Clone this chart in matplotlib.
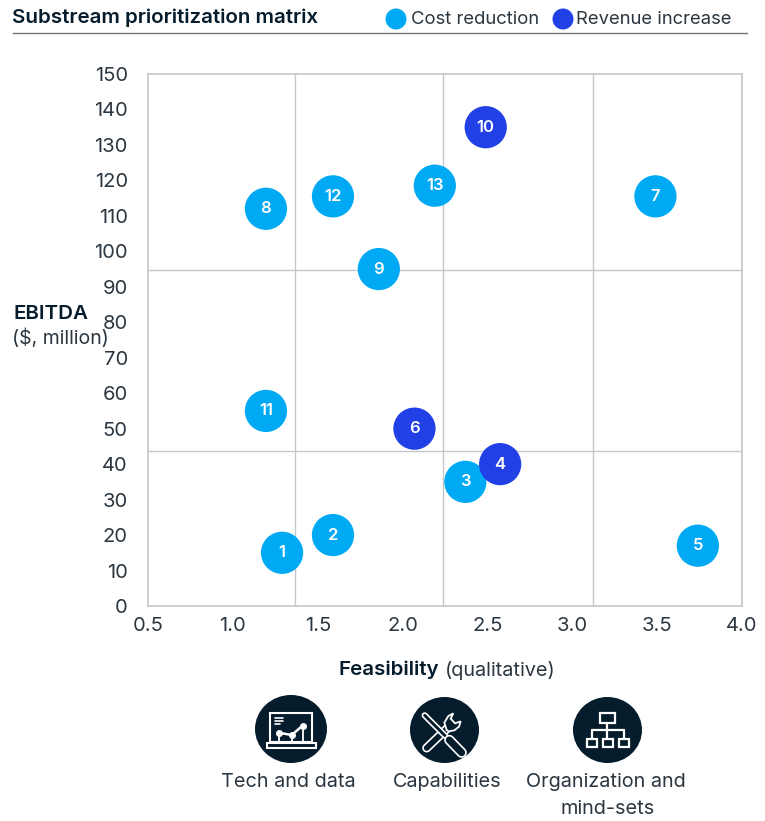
import matplotlib.pyplot as plt
from matplotlib.patches import Ellipse, Polygon, Rectangle

plt.rcParams['font.family'] = ['Inter', 'DejaVu Sans']

NAVY = '#051c2c'
TEXT = '#2b3640'
CYAN = '#00a9f4'
BLUE = '#2140e6'
GRID = '#c4c7ca'

point_labels = [1, 2, 3, 4, 5, 6, 7, 8, 9, 10, 11, 12, 13]
feasibility = [1.29, 1.59, 2.37, 2.575, 3.74, 2.07, 3.49, 1.195, 1.86, 2.49, 1.195, 1.59, 2.19]
ebitda = [15, 20, 35, 40, 17, 50, 115.5, 112, 95, 135, 55, 115.5, 118.5]
kinds = ['c', 'c', 'c', 'r', 'c', 'r', 'c', 'c', 'c', 'r', 'c', 'c', 'c']
quadrant_x = [1.365, 2.24, 3.12]
quadrant_y = [43.8, 94.7]
x_ticks = [0.5, 1.0, 1.5, 2.0, 2.5, 3.0, 3.5, 4.0]
y_ticks = list(range(0, 151, 10))

W, H = 765, 821
fig = plt.figure(figsize=(W / 100, H / 100), dpi=100, facecolor='white')

# main chart
ax = fig.add_axes([148 / W, 1 - 606 / H, 594 / W, 532 / H])
ax.set_xlim(0.5, 4.0)
ax.set_ylim(0, 150)
for v in quadrant_x:
    ax.axvline(v, color=GRID, lw=1, zorder=1)
for v in quadrant_y:
    ax.axhline(v, color=GRID, lw=1, zorder=1)
for s in ax.spines.values():
    s.set_color(GRID)
    s.set_linewidth(1.2)
ax.set_xticks(x_ticks)
ax.set_yticks(y_ticks)
ax.set_xticklabels(['%.1f' % t for t in x_ticks])
ax.tick_params(length=0, labelsize=14.5, labelcolor=TEXT)
ax.tick_params(axis='x', pad=8)
ax.tick_params(axis='y', pad=14.5)

colors = [CYAN if k == 'c' else BLUE for k in kinds]
ax.scatter(feasibility, ebitda, s=925, c=colors, linewidths=0, zorder=3, clip_on=False)
for x, y, n in zip(feasibility, ebitda, point_labels):
    ax.text(x, y, str(n), color='white', fontsize=12, fontweight='semibold',
            ha='center', va='center', zorder=4)

# everything outside the axes, in pixel coordinates
ov = fig.add_axes([0, 0, 1, 1], facecolor='none')
ov.set_xlim(0, W)
ov.set_ylim(H, 0)
ov.axis('off')

ov.text(12, 18, 'Substream prioritization matrix', color=NAVY, fontsize=14.8,
        fontweight='semibold', ha='left', va='center')
ov.plot([13, 747], [33.5, 33.5], color='#6e7780', lw=1)
ov.add_patch(Ellipse((396, 19), 21, 21, color=CYAN, lw=0))
ov.text(411, 19, 'Cost reduction', color=TEXT, fontsize=13.3, ha='left', va='center')
ov.add_patch(Ellipse((563, 19), 21, 21, color=BLUE, lw=0))
ov.text(576, 19, 'Revenue increase', color=TEXT, fontsize=13.3, ha='left', va='center')

ov.text(14, 314, 'EBITDA', color=NAVY, fontsize=14.8, fontweight='semibold', ha='left', va='center')
ov.text(12, 338, '($, million)', color=TEXT, fontsize=14, ha='left', va='center')
ov.text(339, 670, 'Feasibility', color=NAVY, fontsize=14.8, fontweight='semibold', ha='left', va='center')
ov.text(445, 670, '(qualitative)', color=TEXT, fontsize=14.3, ha='left', va='center')


# icon coordinates were measured on the 3x crop starting at (200, 680)
def zx(v):
    return 200 + v / 3


def zy(v):
    return 680 + v / 3


def stroke(xs, ys, lw=1.3, color='white'):
    ov.plot([zx(v) for v in xs], [zy(v) for v in ys], color=color, lw=lw,
            solid_capstyle='round', solid_joinstyle='round', zorder=6)


def box(x0, y0, x1, y1, lw=1.3):
    ov.add_patch(Rectangle((zx(x0), zy(y0)), (x1 - x0) / 3, (y1 - y0) / 3, fill=False,
                           edgecolor='white', lw=lw, zorder=6))


def bar(xs, ys, width):
    # hollow tool shape: a white stroke with a navy one on top
    stroke(xs, ys, lw=width, color='white')
    stroke(xs, ys, lw=width - 2.4, color=NAVY)


ov.add_patch(Ellipse((291, 729), 72, 68, color=NAVY, lw=0, zorder=5))
ov.add_patch(Ellipse((444.5, 730), 69, 66, color=NAVY, lw=0, zorder=5))
ov.add_patch(Ellipse((607.5, 730), 69, 66, color=NAVY, lw=0, zorder=5))

# laptop
box(210, 98, 335, 187, lw=1.5)
box(200, 188, 348, 205, lw=1.5)
for yy, x1 in [(113, 250), (122, 250), (131, 240)]:
    stroke([226, x1], [yy, yy], lw=1.2)
stroke([236, 275, 308], [158, 165, 137], lw=1.8)
stroke([236, 236], [158, 183], lw=1.3)
stroke([275, 275], [165, 183], lw=1.3)
stroke([308, 308], [137, 183], lw=1.3)
ov.scatter([zx(236), zx(275), zx(308)], [zy(158), zy(165), zy(137)], s=16, c='white', zorder=6)

# spanner under screwdriver
bar([680, 745], [204, 142], 6.5)
head = [(740, 150), (733, 128), (745, 108), (760, 100), (752, 116), (765, 130), (782, 124), (777, 140), (763, 151), (746, 154)]
ov.add_patch(Polygon([(zx(a), zy(b)) for a, b in head], closed=True, facecolor=NAVY,
                     edgecolor='white', lw=1.3, zorder=6))
bar([674, 735], [106, 167], 4.5)
bar([748, 785], [180, 218], 7.5)

# org chart
box(1200, 98, 1245, 128, lw=1.6)
stroke([1222, 1222], [128, 150], lw=1.6)
stroke([1175, 1272], [150, 150], lw=1.6)
stroke([1175, 1175], [150, 178], lw=1.6)
stroke([1222, 1222], [150, 178], lw=1.6)
stroke([1272, 1272], [150, 178], lw=1.6)
box(1160, 178, 1190, 200, lw=1.6)
box(1208, 178, 1238, 200, lw=1.6)
box(1258, 178, 1288, 200, lw=1.6)

ov.text(288, 782, 'Tech and data', color=TEXT, fontsize=14.3, ha='center', va='center')
ov.text(447, 782, 'Capabilities', color=TEXT, fontsize=14.3, ha='center', va='center')
ov.text(606, 782, 'Organization and', color=TEXT, fontsize=14.3, ha='center', va='center')
ov.text(608, 809, 'mind-sets', color=TEXT, fontsize=14.3, ha='center', va='center')

fig.savefig('out.png', dpi=100)
